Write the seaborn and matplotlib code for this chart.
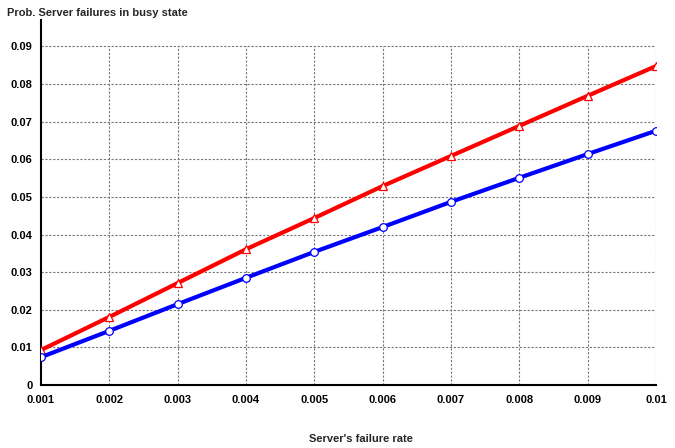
import matplotlib
matplotlib.use("Agg")
import matplotlib.pyplot as plt
import seaborn as sns
import pandas as pd

rate = [0.001, 0.002, 0.003, 0.004, 0.005, 0.006, 0.007, 0.008, 0.009, 0.01]
red_vals = [0.0093, 0.0181, 0.0271, 0.0361, 0.0444, 0.0529, 0.0609, 0.0689, 0.0769, 0.0848]
blue_vals = [0.0074, 0.0144, 0.0215, 0.0285, 0.0354, 0.0420, 0.0487, 0.0551, 0.0614, 0.0676]
xtick_labels = ["0.001", "0.002", "0.003", "0.004", "0.005", "0.006", "0.007", "0.008", "0.009", "0.01"]
yticks = [0, 0.01, 0.02, 0.03, 0.04, 0.05, 0.06, 0.07, 0.08, 0.09]
ytick_labels = ["0", "0.01", "0.02", "0.03", "0.04", "0.05", "0.06", "0.07", "0.08", "0.09"]

sns.set_style("white")
plt.rcParams['font.family'] = ['Liberation Sans', 'DejaVu Sans']

df = pd.DataFrame({"rate": rate, "red": red_vals, "blue": blue_vals})

fig = plt.figure(figsize=(6.75, 4.48), dpi=100)
ax = fig.add_axes([0.0607, 0.1406, 0.9113, 0.8144])

sns.lineplot(data=df, x="rate", y="red", ax=ax, color="#ff0000", linewidth=3.0,
             marker="^", markersize=5.5, markerfacecolor="white", markeredgecolor="#ff0000",
             markeredgewidth=0.9, zorder=4)
sns.lineplot(data=df, x="rate", y="blue", ax=ax, color="#0000ff", linewidth=3.0,
             marker="o", markersize=5.5, markerfacecolor="white", markeredgecolor="#0000ff",
             markeredgewidth=0.9, zorder=4)

ax.set_xlim(0.001, 0.01)
ax.set_ylim(0, 0.097)
ax.set_xticks(rate)
ax.set_xticklabels(xtick_labels, fontsize=8, fontweight="bold")
ax.set_yticks(yticks)
ax.set_yticklabels(ytick_labels, fontsize=8, fontweight="bold")

# grid
ax.hlines(yticks[1:], rate[0], rate[-1], colors="#777777", linestyles=(0, (2, 1.5)), linewidth=0.8, zorder=1)
ax.vlines(rate[1:], 0, yticks[-1], colors="#777777", linestyles=(0, (2, 1.5)), linewidth=0.8, zorder=1)

for s in ["top", "right"]:
    ax.spines[s].set_visible(False)
for s in ["left", "bottom"]:
    ax.spines[s].set_color("black")
    ax.spines[s].set_linewidth(1.5)

ax.tick_params(axis="y", direction="out", length=4, width=1, pad=2, colors="black")
ax.tick_params(axis="x", direction="in", length=4, width=1, pad=7, colors="black")
ax.set_xlabel("")
ax.set_ylabel("")

fig.text(0.0104, 0.971, "Prob. Server failures in busy state", fontsize=8, fontweight="bold", va="center", ha="left")
fig.text(0.535, 0.02, "Server's failure rate", fontsize=8, fontweight="bold", va="center", ha="center")

fig.savefig("out.png", dpi=100, facecolor="white")
